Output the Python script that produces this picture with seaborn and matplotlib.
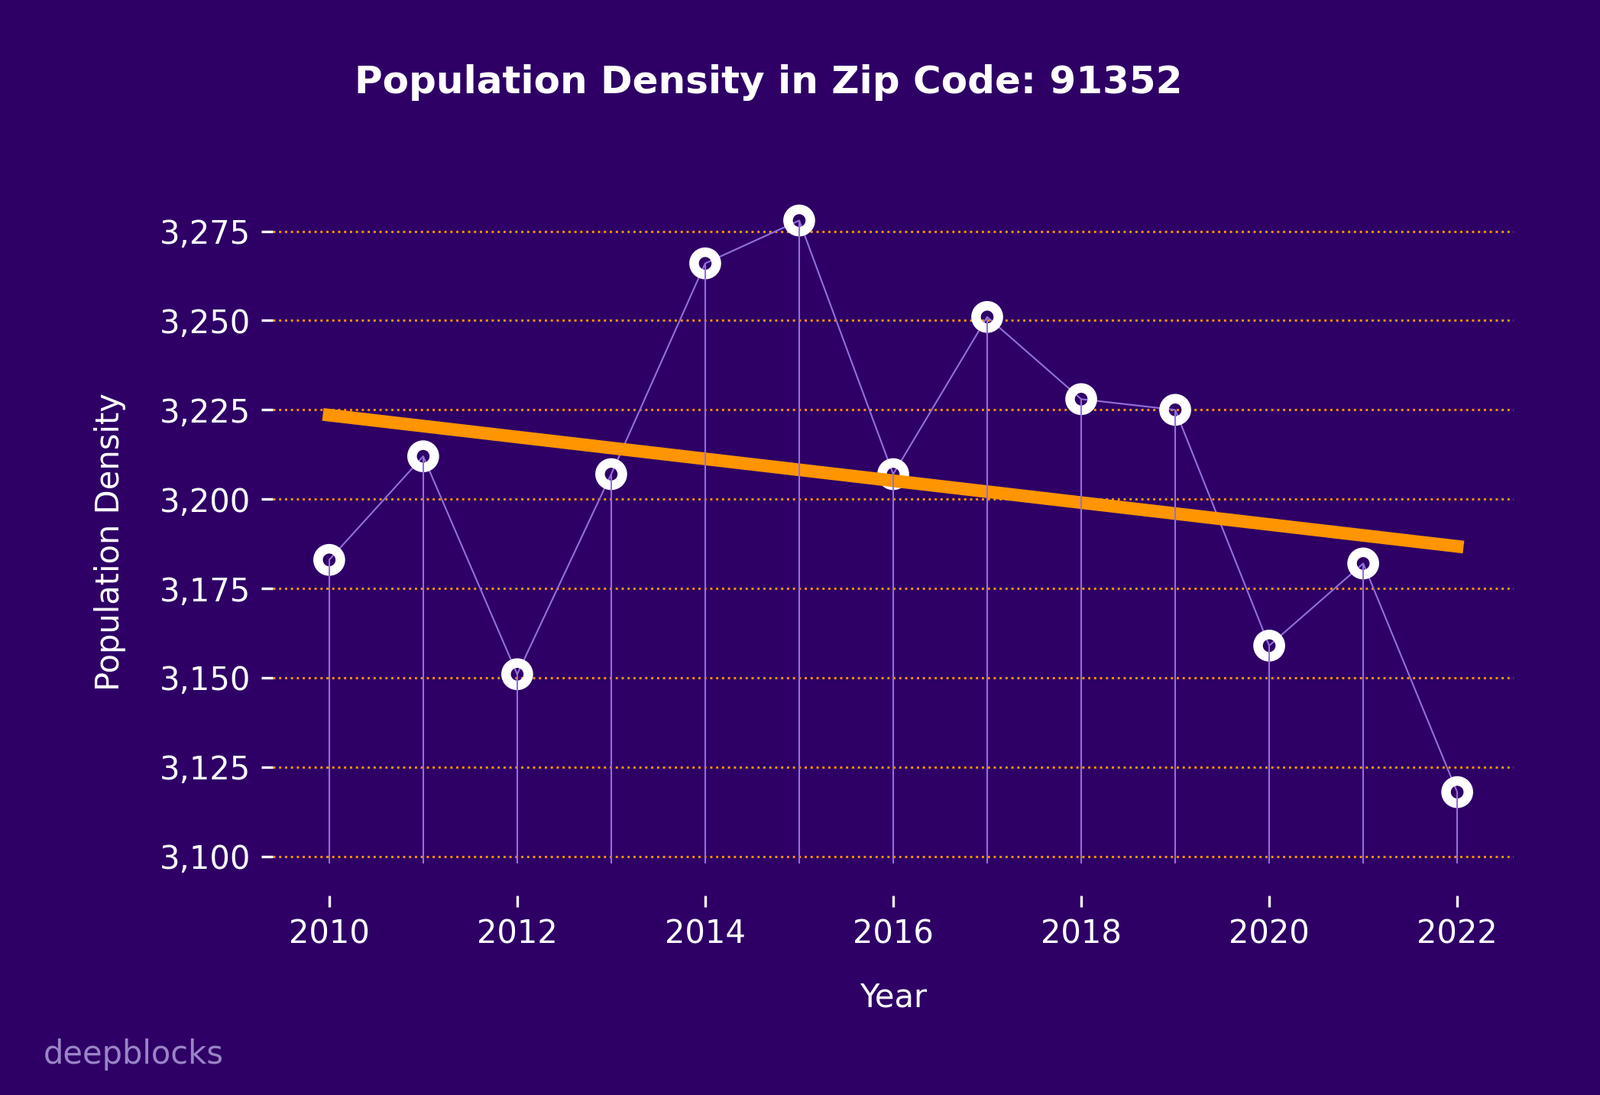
"""
Population density trend for one zip code: stems, markers and a linear fit.
"""

import numpy as np
import pandas as pd
import matplotlib.pyplot as plt
import seaborn as sns
from matplotlib.ticker import FuncFormatter

# Data
years = [2010, 2011, 2012, 2013, 2014, 2015, 2016, 2017, 2018, 2019, 2020, 2021, 2022]
density = [3183, 3212, 3151, 3207, 3266, 3278, 3207, 3251, 3228, 3225, 3159, 3182, 3118]
stem_base = 3098
x_ticks = [2010, 2012, 2014, 2016, 2018, 2020, 2022]
y_ticks = [3100, 3125, 3150, 3175, 3200, 3225, 3250, 3275]

BG = '#2e0066'
LAVENDER = '#9370db'
ORANGE = '#ff9500'

df = pd.DataFrame({'Year': years, 'Density': density})

sns.set_style('ticks', {
    'axes.facecolor': BG,
    'figure.facecolor': BG,
    'axes.edgecolor': BG,
    'xtick.color': 'white',
    'ytick.color': 'white',
    'text.color': 'white',
    'axes.labelcolor': 'white',
})
plt.rcParams['font.family'] = ['DejaVu Sans']

fig, ax = plt.subplots(figsize=(2094 / 300, 1433 / 300), dpi=300)
fig.subplots_adjust(left=0.1705, right=0.946, bottom=0.182, top=0.828)

# Grid lines (y only)
ax.set_axisbelow(True)
ax.yaxis.grid(True, linestyle=':', linewidth=0.7, color=ORANGE)
ax.xaxis.grid(False)

# Connecting line under the markers
sns.lineplot(data=df, x='Year', y='Density', color=LAVENDER, linewidth=0.5,
             ax=ax, zorder=2)

# Ring markers
sns.scatterplot(data=df, x='Year', y='Density', s=49, marker='o',
                facecolor='none', edgecolor='white', linewidth=3,
                ax=ax, zorder=3)

# Linear trend
sns.regplot(data=df, x='Year', y='Density', scatter=False, ci=None,
            color=ORANGE, line_kws={'linewidth': 4, 'zorder': 4,
                                    'solid_capstyle': 'projecting'}, ax=ax)

# Stems on top
ax.vlines(df['Year'], stem_base, df['Density'], color=LAVENDER,
          linewidth=0.5, zorder=5)

for s in ax.spines.values():
    s.set_visible(False)

ax.set_xticks(x_ticks)
ax.set_yticks(y_ticks)
ax.yaxis.set_major_formatter(FuncFormatter(lambda v, _: f'{v:,.0f}'))
ax.tick_params(axis='both', labelsize=10, colors='white', length=3.5, width=0.8)

ax.set_xlabel('Year', fontsize=10, color='white')
ax.set_ylabel('Population Density', fontsize=10, color='white')
ax.xaxis.set_label_coords(0.5, -0.1216)
ax.yaxis.set_label_coords(-0.118, 0.5)

fig.text(0.4804, 0.9246, 'Population Density in Zip Code: 91352',
         ha='center', va='center', fontsize=12, fontweight='bold', color='white')
fig.text(0.027, 0.037, 'deepblocks', ha='left', va='center', fontsize=10,
         color='#9a84c6')

plt.savefig('out.png', dpi=300, facecolor=BG)
